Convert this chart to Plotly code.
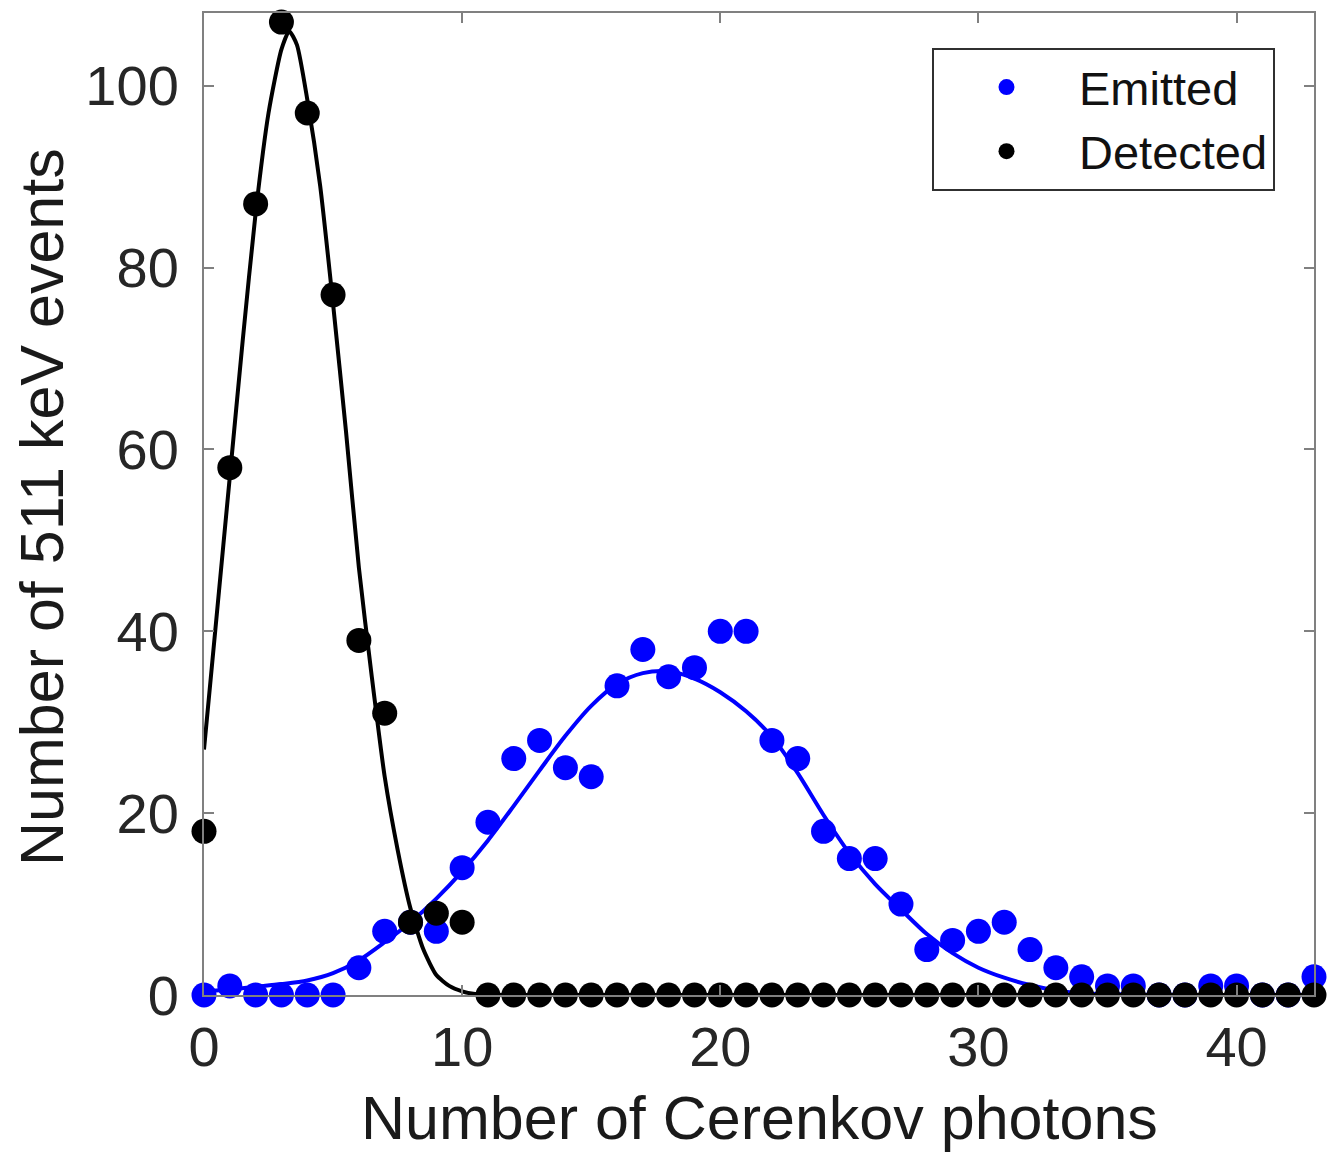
import plotly.graph_objects as go

# ---- data ----
photons = list(range(0, 44))
emitted = [0, 1, 0, 0, 0, 0, 3, 7, 8, 7, 14, 19, 26, 28, 25, 24, 34, 38, 35, 36, 40, 40,
           28, 26, 18, 15, 15, 10, 5, 6, 7, 8, 5, 3, 2, 1, 1, 0, 0, 1, 1, 0, 0, 2]
detected = [18, 58, 87, 107, 97, 77, 39, 31, 8, 9, 8] + [0] * 33

# fitted curves
emit_fit_x = list(range(0, 44))
emit_fit_y = [0.4, 0.6, 0.9, 1.2, 1.6, 2.4, 3.8, 5.8, 8.0, 10.6, 13.6, 17.0, 20.8, 24.7,
              28.5, 31.8, 34.2, 35.4, 35.6, 34.8, 33.3, 31.2, 28.4, 24.4, 19.8, 15.6, 12.2,
              9.4, 6.7, 4.6, 3.0, 1.9, 1.1, 0.5, 0.2, 0.1, 0.05, 0, 0, 0, 0, 0, 0, 0]
det_fit_x = [0, 0.5, 1, 1.5, 2, 2.5, 3, 3.3, 3.6, 4, 4.5, 5, 5.5, 6, 6.5, 7, 7.5, 8, 8.5,
             9, 9.5, 10, 10.5, 11, 12, 20, 30, 43]
det_fit_y = [27, 42, 57, 72, 86, 97, 104, 106, 104.5, 98.5, 89, 76, 62, 47, 35, 24, 16, 9.5, 5,
             2.2, 1.0, 0.4, 0.1, 0, 0, 0, 0, 0]

x_ticks = [0, 10, 20, 30, 40]
y_ticks = [0, 20, 40, 60, 80, 100]

FONT = "Liberation Sans, Arial, sans-serif"
W, H = 1339, 1154
L, R, T, B = 204, 25, 13, 159

fig = go.Figure()
fig.add_trace(go.Scatter(x=emit_fit_x, y=emit_fit_y, mode="lines",
                         line=dict(color="#0000ff", width=4, shape="spline", smoothing=0.8),
                         showlegend=False, hoverinfo="skip", cliponaxis=False))
fig.add_trace(go.Scatter(x=photons, y=emitted, mode="markers", name="Emitted",
                         marker=dict(color="#0000ff", size=25), cliponaxis=False))
fig.add_trace(go.Scatter(x=det_fit_x, y=det_fit_y, mode="lines",
                         line=dict(color="#000000", width=4, shape="spline", smoothing=0.6),
                         showlegend=False, hoverinfo="skip", cliponaxis=False))
fig.add_trace(go.Scatter(x=photons, y=detected, mode="markers", name="Detected",
                         marker=dict(color="#000000", size=25), cliponaxis=False))

axis_common = dict(showgrid=False, zeroline=False, showline=True, linecolor="#808080", linewidth=2,
                   mirror="ticks", ticks="inside", ticklen=10, tickwidth=2, tickcolor="#808080",
                   tickfont=dict(family=FONT, size=56, color="#262626"))

fig.update_layout(
    width=W, height=H,
    margin=dict(l=L, r=R, t=T, b=B, autoexpand=False),
    paper_bgcolor="white", plot_bgcolor="white",
    xaxis=dict(range=[0, 43], tickvals=x_ticks, ticklabelstandoff=2, **axis_common),
    yaxis=dict(range=[0, 108], tickvals=y_ticks, ticklabelstandoff=12, **axis_common),
    legend=dict(x=(1275 - L) / (W - L - R), y=(995 - 48) / (H - T - B), xanchor="right", yanchor="top",
                bordercolor="#303030", borderwidth=2, bgcolor="white",
                font=dict(family=FONT, size=47, color="#111"), itemwidth=135, tracegroupgap=0),
    annotations=[
        dict(text="Number of Cerenkov photons", xref="paper", yref="paper",
             x=(759 - L) / (W - L - R), y=(995 - 1118) / (H - T - B), xanchor="center", yanchor="middle",
             showarrow=False, font=dict(family=FONT, size=61, color="#1a1a1a")),
        dict(text="Number of 511 keV events", xref="paper", yref="paper",
             x=(42 - L) / (W - L - R), y=(995 - 507) / (H - T - B), xanchor="center", yanchor="middle",
             textangle=-90, showarrow=False, font=dict(family=FONT, size=61, color="#1a1a1a")),
    ],
)

fig.write_html("out.html")
